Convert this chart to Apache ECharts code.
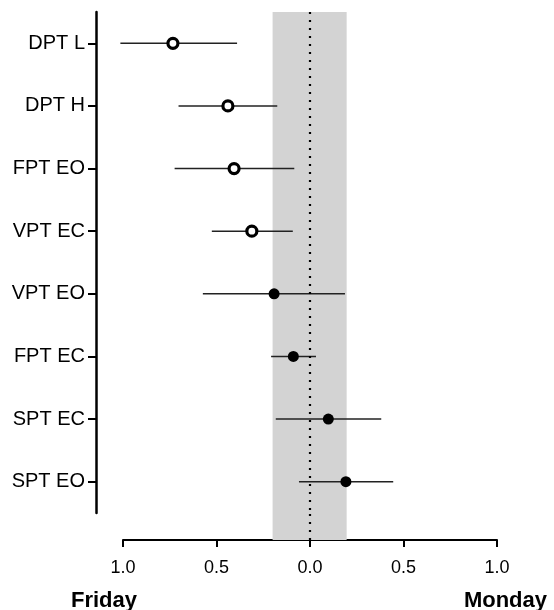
<!DOCTYPE html>
<html>
<head>
  <meta charset="utf-8">
  <script src="https://cdn.jsdelivr.net/npm/echarts@6/dist/echarts.min.js"></script>
  <style>
    html, body { margin: 0; padding: 0; background: #fff; }
  </style>
</head>
<body>
<div id="main" style="width: 554px; height: 610px"></div>
<script>
  // negative = Friday side, positive = Monday side
  const categories = ['DPT L', 'DPT H', 'FPT EO', 'VPT EC', 'VPT EO', 'FPT EC', 'SPT EC', 'SPT EO'];
  const means = [-0.733, -0.439, -0.406, -0.311, -0.192, -0.089, 0.098, 0.192];
  const lows = [-1.014, -0.703, -0.724, -0.525, -0.573, -0.208, -0.183, -0.059];
  const highs = [-0.390, -0.175, -0.084, -0.092, 0.187, 0.032, 0.381, 0.445];
  const openMarker = [true, true, true, true, false, false, false, false];
  const band = [-0.2, 0.196];
  const xTicks = [-1, -0.5, 0, 0.5, 1];

  const font = 'Arial, "Liberation Sans", sans-serif';
  const chart = echarts.init(document.getElementById('main'));

  const barData = categories.map((c, i) => [lows[i], highs[i], i]);
  const openPts = [];
  const filledPts = [];
  categories.forEach((c, i) => {
    (openMarker[i] ? openPts : filledPts).push([means[i], c]);
  });

  const bandArea = {
    silent: true,
    itemStyle: { color: '#d3d3d3' },
    data: [[{ xAxis: band[0] }, { xAxis: band[1] }]]
  };
  const zeroLine = {
    silent: true,
    symbol: 'none',
    label: { show: false },
    lineStyle: { color: '#000', width: 2.2, type: [2, 6] },
    data: [{ xAxis: 0 }]
  };

  chart.setOption({
    animation: false,
    title: [
      { text: 'Friday', left: 66, top: 585, textStyle: { fontFamily: font, fontSize: 22, fontWeight: 'bold', color: '#000' } },
      { text: 'Monday', right: 2, top: 585, textStyle: { fontFamily: font, fontSize: 22, fontWeight: 'bold', color: '#000' } }
    ],
    grid: [
      { left: 123, right: 57, top: 12, height: 501 },
      { left: 123, right: 57, top: 513, height: 27 }
    ],
    xAxis: [
      { gridIndex: 0, type: 'value', min: -1, max: 1, show: false },
      {
        gridIndex: 1, type: 'value', min: -1, max: 1, interval: 0.5,
        splitLine: { show: false },
        axisLine: { show: true, onZero: false, lineStyle: { color: '#000', width: 2 } },
        axisTick: { show: true, length: 7, lineStyle: { color: '#000', width: 2 } },
        axisLabel: {
          margin: 19, fontFamily: font, fontSize: 18, color: '#000',
          formatter: v => xTicks.indexOf(v) >= 0 ? Math.abs(v).toFixed(1) : ''
        }
      }
    ],
    yAxis: [
      {
        gridIndex: 0, type: 'category', data: categories, inverse: true, offset: 27,
        position: 'left',
        axisLine: { show: true, onZero: false, lineStyle: { color: '#000', width: 2.5 } },
        axisTick: { show: true, alignWithLabel: true, length: 8, lineStyle: { color: '#000', width: 2 } },
        axisLabel: { margin: 11, fontFamily: font, fontSize: 20, color: '#000' },
        splitLine: { show: false }
      },
      { gridIndex: 1, type: 'value', min: 0, max: 1, show: false }
    ],
    series: [
      {
        type: 'scatter', xAxisIndex: 0, yAxisIndex: 0, data: [], z: 1,
        markArea: bandArea, markLine: zeroLine
      },
      {
        type: 'scatter', xAxisIndex: 1, yAxisIndex: 1, data: [], z: 1,
        markArea: bandArea, markLine: zeroLine
      },
      {
        type: 'custom', xAxisIndex: 0, yAxisIndex: 0, z: 3,
        data: barData,
        renderItem: function (params, api) {
          const a = api.coord([api.value(0), api.value(2)]);
          const b = api.coord([api.value(1), api.value(2)]);
          return {
            type: 'line',
            shape: { x1: a[0], y1: a[1], x2: b[0], y2: b[1] },
            style: { stroke: '#222', lineWidth: 1.6 }
          };
        }
      },
      {
        type: 'scatter', xAxisIndex: 0, yAxisIndex: 0, z: 4,
        symbol: 'circle', symbolSize: 10,
        itemStyle: { color: '#fff', borderColor: '#000', borderWidth: 3.2, opacity: 1 },
        data: openPts
      },
      {
        type: 'scatter', xAxisIndex: 0, yAxisIndex: 0, z: 4,
        symbol: 'circle', symbolSize: 11,
        itemStyle: { color: '#000', opacity: 1 },
        data: filledPts
      }
    ]
  });
</script>
</body>
</html>
